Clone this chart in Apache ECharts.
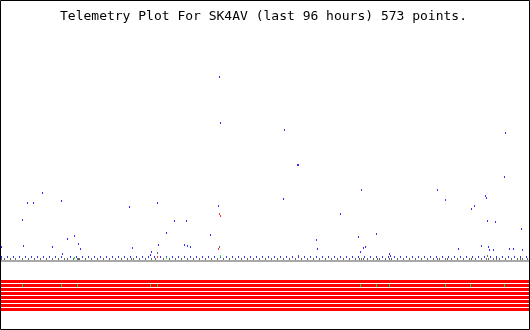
<!DOCTYPE html>
<html>
<head>
<meta charset="utf-8">
<script src="https://cdn.jsdelivr.net/npm/echarts@6/dist/echarts.min.js"></script>
<style>html,body{margin:0;padding:0;background:#fff;}#c{width:530px;height:330px;}</style>
</head>
<body>
<div id="c"></div>
<script>
// time positions on a 0..529 scale spanning the 96 hour window
const titleText = 'Telemetry Plot For SK4AV (last 96 hours) 573 points.';

// elevated blue telemetry samples
const blueX = [1,23,52,62,67,74,78,80,42,27,33,61,22,129,132,157,151,150,158,166,174,186,184,187,190,210,218,219,220,284,297,298,283,340,316,317,358,505,504,361,437,445,485,486,474,471,487,495,521,376,365,363,360,389,390,458,481,488,489,493,509,513,522];
const blueV = [13,14,13,6,21,24,16,11,67,57,57,59,40,53,12,57,8,5,15,27,39,39,15,14,13,25,54,183,137,130,95,95,61,46,20,11,23,127,83,70,70,60,64,62,54,51,39,38,31,26,13,12,8,6,4,11,14,13,10,10,11,11,10];

// blue samples sitting at base level
const blueBaseX = [1,7,13,19,25,31,37,43,49,55,61,70,76,82,88,94,100,106,112,118,124,130,136,142,148,154,160,166,172,178,184,190,196,202,208,214,220,226,232,238,244,250,256,262,268,274,280,286,292,298,304,310,316,322,328,334,340,346,352,358,364,370,376,382,388,394,400,406,412,418,424,430,436,442,448,454,460,466,472,478,484,490,496,502,508,514,520,526];
const blueBaseLevel = 3;

// dark grey samples
const greyBaseX = [1,4,10,15,22,28,34,40,46,52,58,64,67,73,77,78,79,85,91,97,103,109,115,121,127,131,133,139,145,151,155,163,169,175,181,187,193,199,205,211,217,223,229,235,241,247,253,259,265,271,277,283,289,295,301,307,313,319,325,331,337,343,349,355,359,361,363,367,373,377,379,385,389,391,397,403,409,415,421,427,433,437,439,445,447,451,457,463,469,471,475,481,486,488,493,496,499,505,511,517,520,522,527];
const greyBaseLevel = 1;
const greyX = [157,219,298,487];
const greyV = [7,13,4,4];

// red samples
const redX = [219,220,218,157];
const redV = [46,44,11,3];

// green samples
const greenX = [74,166,220];
const greenV = [2,2,4];

// status bits: 8 rows, all 0 (red) except row 1 where these samples are 1 (green)
const bitRows = [0,1,2,3,4,5,6,7];
const bitOnRow = 1;
const bitOnX = [22,61,77,150,157,360,376,389,445,470,504];

const X_MIN = -0.5, X_MAX = 529.5;
const BASE_LINE = -1;
const bitLevel = r => -21.5 - 4 * r;

const zip = (xs, vs) => xs.map((x, i) => [x, vs[i]]);
const dots = (name, data, color, size) => ({
  name, type: 'scatter', data, symbol: 'rect', symbolSize: size || [1, 2],
  itemStyle: { color }, silent: true, z: 5
});

const series = [];
bitRows.forEach(r => {
  series.push({
    type: 'line', data: [[X_MIN, bitLevel(r)], [X_MAX, bitLevel(r)]],
    symbol: 'none', silent: true, lineStyle: { color: '#ff0000', width: 3, cap: 'butt' }, z: 2
  });
});
series.push(dots('bits', bitOnX.map(x => [x, bitLevel(bitOnRow)]), '#00ff00', [1, 3]));
series.push({
  type: 'line', data: [[X_MIN, BASE_LINE], [X_MAX, BASE_LINE]], symbol: 'none', silent: true,
  lineStyle: { color: '#a8a8a8', width: 2, cap: 'butt' }, z: 2
});
series.push(dots('greyBase', greyBaseX.map(x => [x, greyBaseLevel]), '#404040'));
series.push(dots('blueBase', blueBaseX.map(x => [x, blueBaseLevel]), '#0000ff'));
series.push(dots('grey', zip(greyX, greyV), '#404040'));
series.push(dots('blue', zip(blueX, blueV), '#0000ff'));
series.push(dots('red', zip(redX, redV), '#ff0000'));
series.push(dots('green', zip(greenX, greenV), '#00ff00'));

const chart = echarts.init(document.getElementById('c'), null, { renderer: 'canvas' });
chart.setOption({
  animation: false,
  backgroundColor: '#ffffff',
  title: {
    text: titleText, left: 60, top: 10, padding: 0,
    textStyle: { fontFamily: 'DejaVu Sans Mono', fontSize: 13, fontWeight: 'normal', color: '#000' }
  },
  grid: { left: 0, top: 30, width: 530, height: 300, containLabel: false },
  xAxis: { type: 'value', min: X_MIN, max: X_MAX, show: false },
  yAxis: { type: 'value', min: -70, max: 230, show: false },
  graphic: [{
    type: 'rect', shape: { x: 0.5, y: 0.5, width: 529, height: 329 },
    style: { fill: 'none', stroke: '#000', lineWidth: 1 }, z: 100, silent: true
  }],
  series
});
</script>
</body>
</html>
